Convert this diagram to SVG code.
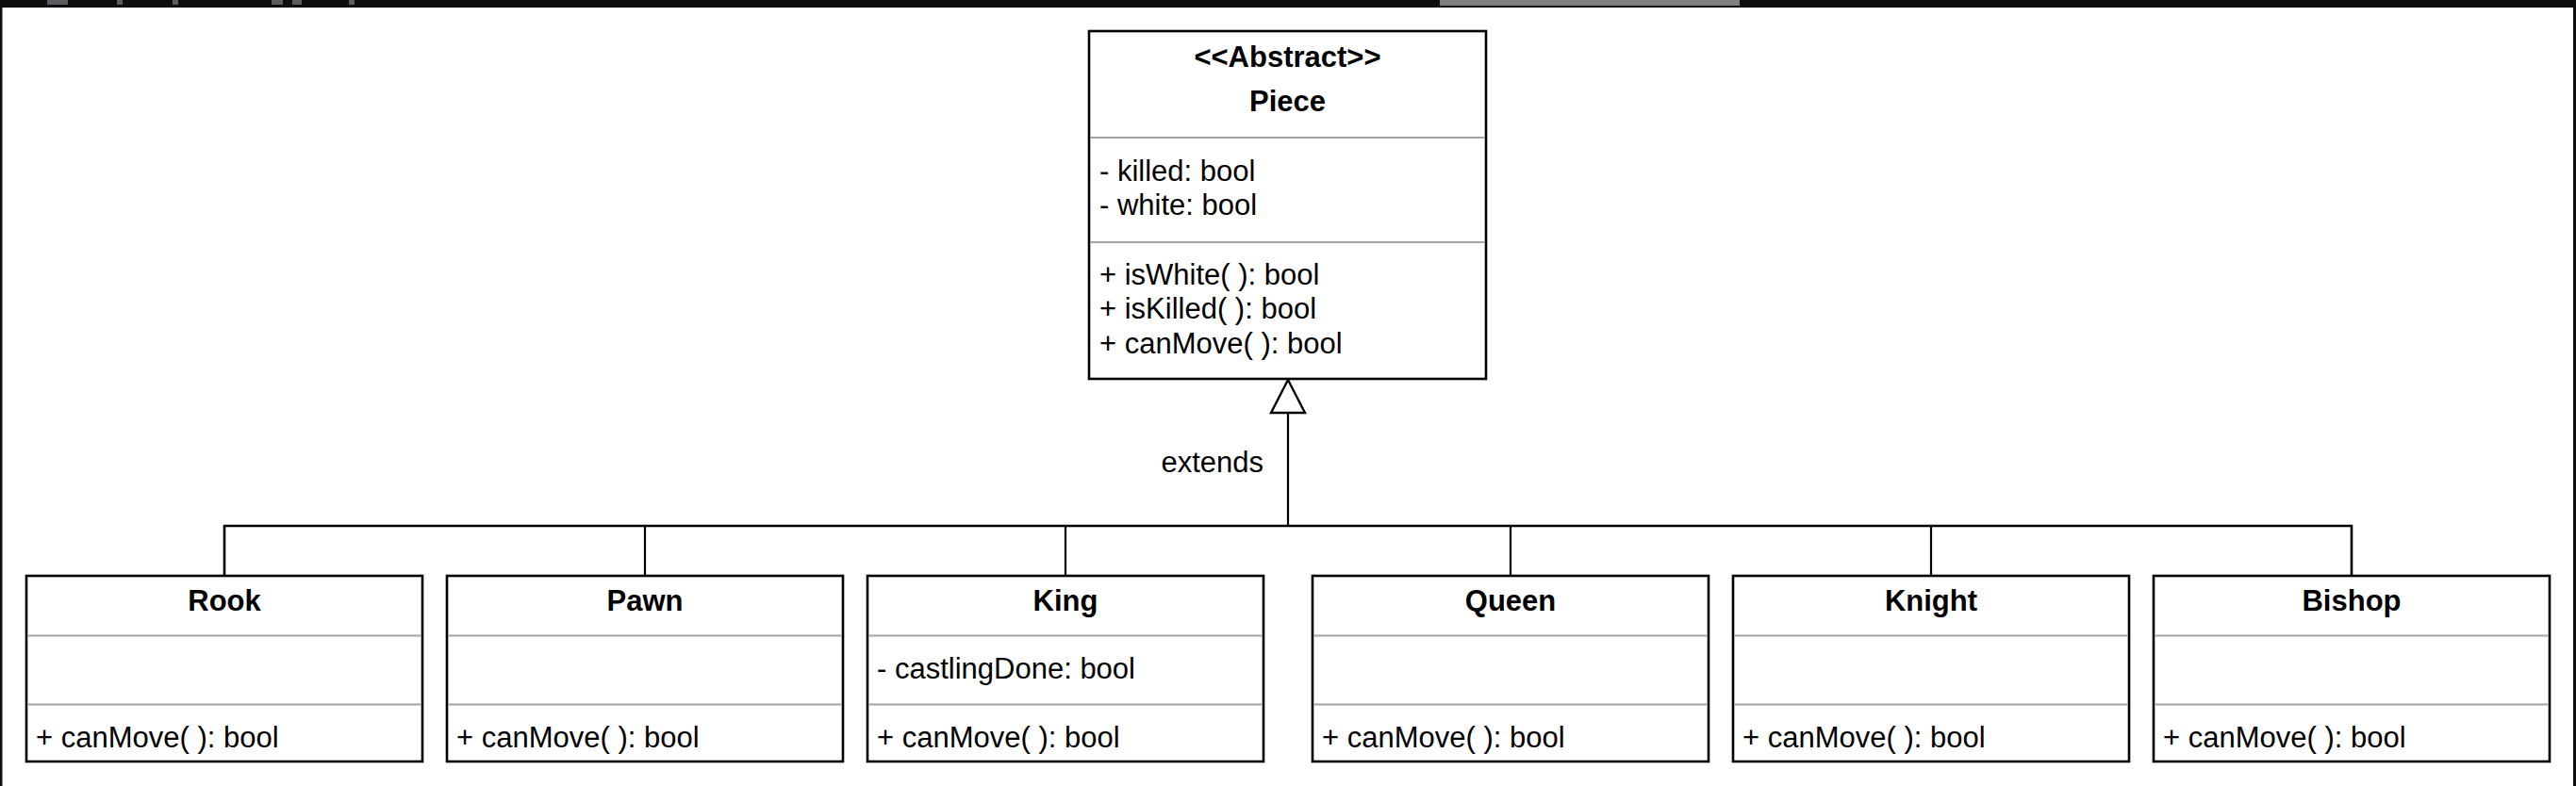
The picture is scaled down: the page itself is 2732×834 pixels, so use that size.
<svg xmlns="http://www.w3.org/2000/svg" width="2732" height="834" viewBox="0 0 2732 834">
<style>
.box{fill:#fff;stroke:#000;stroke-width:2.6}
.div{stroke:#a3a3a3;stroke-width:2.2}
.t{font-family:"Liberation Sans",Arial,Helvetica,sans-serif;font-size:31px;fill:#000}
.b{font-weight:bold;text-anchor:middle}
.ln{fill:none;stroke:#000;stroke-width:2.2}
.frame{fill:#0e0e10}
.tab{fill:#5c5c60}
</style>
<rect x="0" y="0" width="2732" height="834" fill="#fff"/>
<g id="frame">
<rect class="frame" x="0" y="0" width="2732" height="8"/>
<rect class="frame" x="0" y="0" width="2.5" height="834"/>
<rect class="frame" x="2729" y="0" width="3" height="834"/>
<rect class="tab" x="50" y="0" width="22" height="5"/>
<rect class="tab" x="124" y="0" width="6" height="5"/>
<rect class="tab" x="183" y="0" width="6" height="5"/>
<rect class="tab" x="288" y="0" width="12" height="5"/>
<rect class="tab" x="310" y="0" width="10" height="5"/>
<rect class="tab" x="370" y="0" width="6" height="5"/>
<rect x="1527" y="0" width="318" height="6" fill="#808080"/>
</g>
<g id="connectors">
<polyline class="ln" points="238,611 238,558 2494,558 2494,611" style="stroke-width:2.6"/>
<line class="ln" x1="684" y1="558" x2="684" y2="611"/>
<line class="ln" x1="1130" y1="558" x2="1130" y2="611"/>
<line class="ln" x1="1602" y1="558" x2="1602" y2="611"/>
<line class="ln" x1="2048" y1="558" x2="2048" y2="611"/>
<line class="ln" x1="1366" y1="558" x2="1366" y2="438"/>
<polygon points="1366,403 1348,438 1384,438" fill="#fff" stroke="#000" stroke-width="2.4"/>
<text class="t" x="1340" y="501" text-anchor="end">extends</text>
</g>
<g id="piece">
<rect class="box" x="1155" y="33" width="421" height="369"/>
<line class="div" x1="1156" y1="146" x2="1575" y2="146"/>
<line class="div" x1="1156" y1="257" x2="1575" y2="257"/>
<text class="t b" x="1365.5" y="71">&lt;&lt;Abstract&gt;&gt;</text>
<text class="t b" x="1365.5" y="118">Piece</text>
<text class="t" x="1166" y="192">- killed: bool</text>
<text class="t" x="1166" y="228">- white: bool</text>
<text class="t" x="1166" y="302">+ isWhite( ): bool</text>
<text class="t" x="1166" y="338">+ isKilled( ): bool</text>
<text class="t" x="1166" y="375">+ canMove( ): bool</text>
</g>
<g id="rook">
<rect class="box" x="28" y="611" width="420" height="197"/>
<line class="div" x1="29" y1="674.5" x2="447" y2="674.5"/>
<line class="div" x1="29" y1="747.5" x2="447" y2="747.5"/>
<text class="t b" x="238" y="648">Rook</text>
<text class="t" x="38" y="793">+ canMove( ): bool</text>
</g>
<g id="pawn">
<rect class="box" x="474" y="611" width="420" height="197"/>
<line class="div" x1="475" y1="674.5" x2="893" y2="674.5"/>
<line class="div" x1="475" y1="747.5" x2="893" y2="747.5"/>
<text class="t b" x="684" y="648">Pawn</text>
<text class="t" x="484" y="793">+ canMove( ): bool</text>
</g>
<g id="king">
<rect class="box" x="920" y="611" width="420" height="197"/>
<line class="div" x1="921" y1="674.5" x2="1339" y2="674.5"/>
<line class="div" x1="921" y1="747.5" x2="1339" y2="747.5"/>
<text class="t b" x="1130" y="648">King</text>
<text class="t" x="930" y="720">- castlingDone: bool</text>
<text class="t" x="930" y="793">+ canMove( ): bool</text>
</g>
<g id="queen">
<rect class="box" x="1392" y="611" width="420" height="197"/>
<line class="div" x1="1393" y1="674.5" x2="1811" y2="674.5"/>
<line class="div" x1="1393" y1="747.5" x2="1811" y2="747.5"/>
<text class="t b" x="1602" y="648">Queen</text>
<text class="t" x="1402" y="793">+ canMove( ): bool</text>
</g>
<g id="knight">
<rect class="box" x="1838" y="611" width="420" height="197"/>
<line class="div" x1="1839" y1="674.5" x2="2257" y2="674.5"/>
<line class="div" x1="1839" y1="747.5" x2="2257" y2="747.5"/>
<text class="t b" x="2048" y="648">Knight</text>
<text class="t" x="1848" y="793">+ canMove( ): bool</text>
</g>
<g id="bishop">
<rect class="box" x="2284" y="611" width="420" height="197"/>
<line class="div" x1="2285" y1="674.5" x2="2703" y2="674.5"/>
<line class="div" x1="2285" y1="747.5" x2="2703" y2="747.5"/>
<text class="t b" x="2494" y="648">Bishop</text>
<text class="t" x="2294" y="793">+ canMove( ): bool</text>
</g>
</svg>
